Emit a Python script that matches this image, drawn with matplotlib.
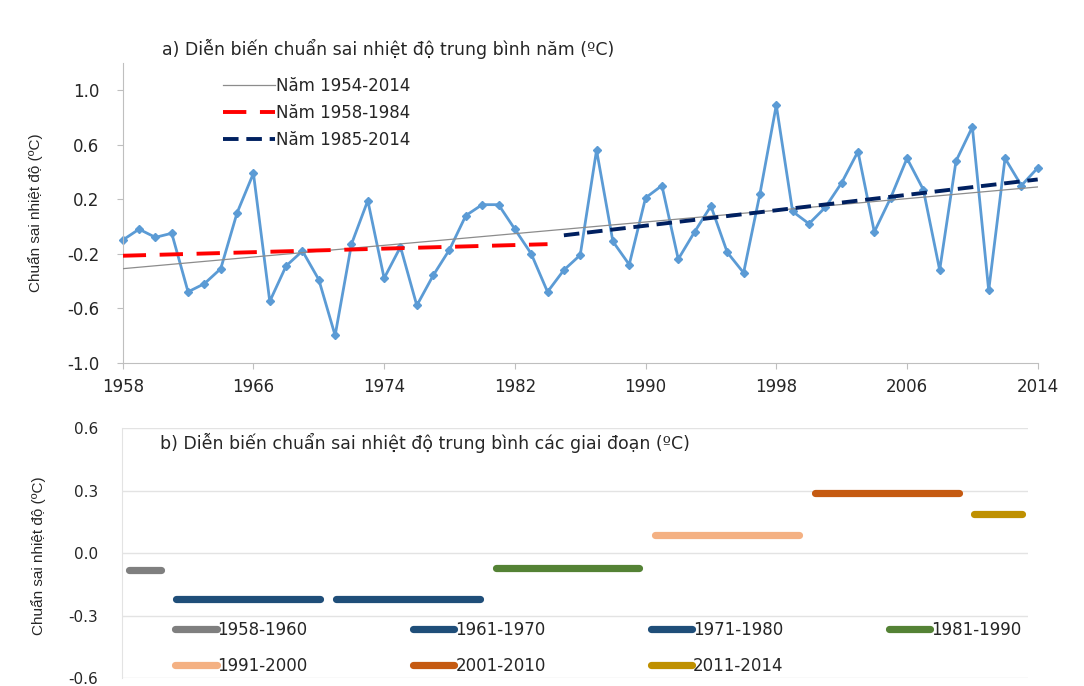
import matplotlib

matplotlib.use("Agg")
import matplotlib.pyplot as plt
import numpy as np

plt.rcParams["font.family"] = ["DejaVu Sans"]
plt.rcParams["axes.unicode_minus"] = False

# yearly temperature anomaly (degC)
years = np.arange(1958, 2015)
anomaly = [
    -0.10, -0.02, -0.08, -0.05, -0.48, -0.42, -0.31, 0.10, 0.39, -0.55,
    -0.29, -0.18, -0.39, -0.80, -0.13, 0.19, -0.38, -0.15, -0.58, -0.36,
    -0.17, 0.08, 0.16, 0.16, -0.02, -0.20, -0.48, -0.32, -0.21, 0.56,
    -0.11, -0.28, 0.21, 0.30, -0.24, -0.04, 0.15, -0.19, -0.34, 0.24,
    0.89, 0.11, 0.02, 0.14, 0.32, 0.55, -0.04, 0.21, 0.50, 0.27,
    -0.32, 0.48, 0.73, -0.47, 0.50, 0.30, 0.43,
]

# linear trends (end points)
trend_all_years = [1958, 2014]
trend_all = [-0.31, 0.29]
trend_early_years = [1958, 1984]
trend_early = [-0.215, -0.13]
trend_late_years = [1985, 2014]
trend_late = [-0.065, 0.345]

# period means (degC)
period_start = [1958, 1961, 1971, 1981, 1991, 2001, 2011]
period_end = [1960, 1970, 1980, 1990, 2000, 2010, 2014]
period_mean = [-0.08, -0.22, -0.22, -0.07, 0.09, 0.29, 0.19]
period_colors = ["#7F7F7F", "#1F4E79", "#1F4E79", "#548235",
                 "#F4B183", "#C55A11", "#BF9000"]

axis_grey = "#BFBFBF"
text_dark = "#262626"
ylabel_text = "Chuẩn sai nhiệt độ (ºC)"
label_font = ["Liberation Sans Narrow", "Liberation Sans", "DejaVu Sans"]

fig = plt.figure(figsize=(10.84, 6.86), dpi=100)

# ---- a) yearly anomaly ----
ax1 = fig.add_axes([0.1132, 0.4713, 0.8441, 0.4369])
ax1.plot(years, anomaly, color="#5B9BD5", lw=2, marker="D", ms=4.5,
         zorder=2, clip_on=False)
l_all, = ax1.plot(trend_all_years, trend_all, color="#8C8C8C", lw=0.9,
                  zorder=3, label="Năm 1954-2014")
l_early, = ax1.plot(trend_early_years, trend_early, color="#FF0000", lw=2.8,
                    dashes=(6, 3.5), zorder=3, label="Năm 1958-1984")
l_late, = ax1.plot(trend_late_years, trend_late, color="#002060", lw=2.8,
                   dashes=(4, 2), zorder=3, label="Năm 1985-2014")

ax1.set_xlim(1958, 2014)
ax1.set_ylim(-1.0, 1.2)
ax1.set_xticks(np.arange(1958, 2015, 8))
ax1.set_yticks([-1.0, -0.6, -0.2, 0.2, 0.6, 1.0])
ax1.yaxis.set_major_formatter(plt.FormatStrFormatter("%.1f"))
for side in ["top", "right"]:
    ax1.spines[side].set_visible(False)
for side in ["left", "bottom"]:
    ax1.spines[side].set_color(axis_grey)
ax1.tick_params(axis="both", colors=axis_grey, length=4, labelsize=12,
                labelcolor=text_dark)
ax1.tick_params(axis="y", pad=13)
ax1.tick_params(axis="x", pad=7)
ax1.set_ylabel(ylabel_text, family=label_font, fontsize=11, color=text_dark)
ax1.yaxis.set_label_coords(-0.087, 0.5)
ax1.legend(handles=[l_all, l_early, l_late], loc="upper left",
           bbox_to_anchor=(0.1096, 0.954), frameon=False, fontsize=12,
           borderpad=0, borderaxespad=0, handlelength=3.1, handletextpad=0.1,
           labelspacing=0.55, labelcolor=text_dark)
fig.text(0.1494, 0.9286, "a) Diễn biến chuẩn sai nhiệt độ trung bình năm (ºC)",
         fontsize=12.5, color=text_dark, va="center")

# ---- b) period means ----
ax2 = fig.add_axes([0.1123, 0.0112, 0.836, 0.3645])
handles = []
for s, e, m, c in zip(period_start, period_end, period_mean, period_colors):
    h, = ax2.plot([s, e], [m, m], color=c, lw=5.2, solid_capstyle="round",
                  label=f"{s}-{e}")
    handles.append(h)

ax2.set_xlim(1957.57, 2014.35)
ax2.set_ylim(-0.6, 0.6)
ax2.set_yticks([-0.6, -0.3, 0.0, 0.3, 0.6])
ax2.yaxis.set_major_formatter(plt.FormatStrFormatter("%.1f"))
ax2.set_xticks([])
ax2.grid(axis="y", color="#E3E3E3", lw=1)
ax2.set_axisbelow(True)
for side in ["top", "right", "bottom"]:
    ax2.spines[side].set_visible(False)
ax2.spines["left"].set_color("#E3E3E3")
ax2.tick_params(axis="y", length=0, pad=17, labelsize=11,
                labelcolor=text_dark)
ax2.set_ylabel(ylabel_text, family=label_font, fontsize=11, color=text_dark)
ax2.yaxis.set_label_coords(-0.0836, 0.49)

# legend rows read left to right
order = [0, 4, 1, 5, 2, 6, 3]
ax2.legend([handles[i] for i in order], [handles[i].get_label() for i in order],
           ncol=4, loc="lower left", bbox_to_anchor=(0.0588, 0.012),
           frameon=False, fontsize=12, borderpad=0, borderaxespad=0,
           handlelength=2.5, handletextpad=0.05, columnspacing=6.3,
           labelspacing=1.1, labelcolor=text_dark)
fig.text(0.1476, 0.3547,
         "b) Diễn biến chuẩn sai nhiệt độ trung bình các giai đoạn (ºC)",
         fontsize=12.5, color=text_dark, va="center")

fig.savefig("out.png", dpi=100)
